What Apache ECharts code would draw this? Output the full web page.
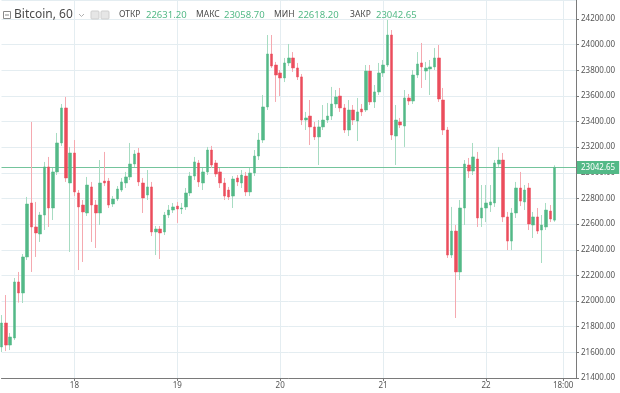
<!DOCTYPE html>
<html><head><meta charset="utf-8">
<script src="https://cdn.jsdelivr.net/npm/echarts@6/dist/echarts.min.js"></script>
<style>html,body{margin:0;padding:0;background:#fff}#c{width:620px;height:393px}</style>
</head><body><div id="c"></div>
<script>
// hourly candles, first = 17th 07:00, last = 22nd 16:00
const openV = [21642,21829,21657,21712,22149,22063,22344,22765,22578,22523,22671,23046,22726,23007,23233,23506,22921,23155,22843,22749,
22687,22890,22749,22687,22936,22936,22757,22796,22866,22921,22968,23069,23155,22921,22827,22890,22539,22562,22539,22671,
22710,22741,22718,22734,22843,22975,23077,22921,23007,23178,23077,23007,22921,22866,22819,22960,22921,22975,22851,22999,
23131,23256,23514,23927,23841,23779,23740,23857,23896,23818,23748,23412,23443,23358,23280,23358,23412,23443,23537,23599,
23506,23334,23490,23404,23498,23490,23794,23553,23631,23779,23841,24075,23287,23397,23365,23584,23560,23763,23857,23794,
23810,23826,23896,23568,23334,22359,22546,22227,22726,23061,23014,23108,22648,22726,22749,22765,23069,23100,22656,22468,
22687,22882,22773,22882,22593,22656,22554,22578,22702,22631.20];
const closeV = [21829,21657,21720,22149,22063,22344,22757,22578,22531,22671,23046,22726,23007,23233,23506,22960,23155,22851,22734,22695,
22905,22749,22687,22921,22921,22749,22796,22874,22929,22968,23069,23147,22929,22804,22890,22539,22562,22531,22671,22710,
22734,22718,22726,22843,22975,23085,22929,23007,23178,23061,22991,22921,22819,22812,22952,22929,22983,22851,22999,23131,
23256,23514,23927,23833,23763,23740,23857,23896,23818,23748,23412,23428,23358,23280,23358,23412,23443,23537,23592,23506,
23334,23490,23412,23475,23475,23794,23553,23631,23779,23841,24075,23295,23412,23373,23584,23560,23763,23849,23826,23818,
23826,23896,23576,23334,22359,22546,22227,22726,23069,23014,23124,22648,22726,22765,22773,23077,23100,22656,22468,22687,
22882,22780,22866,22601,22656,22546,22593,22710,22640,23042.65];
const lowV = [21603,21610,21618,21696,21988,21985,22320,22227,22344,22461,22554,22578,22632,22983,23210,22929,22383,22819,22242,22305,
22663,22461,22414,22593,22897,22726,22734,22780,22851,22882,22944,23046,22897,22687,22788,22507,22359,22328,22515,22648,
22687,22609,22679,22710,22819,22944,22890,22866,22983,23038,22968,22882,22788,22788,22726,22897,22882,22819,22819,22975,
23100,23233,23490,23818,23553,23599,23708,23833,23787,23724,23373,23334,23217,23256,23061,23334,23389,23412,23506,23475,
23311,23287,23373,23248,23443,23475,23529,23506,23607,23748,23826,23256,23061,23350,23202,23529,23537,23740,23662,23724,
23607,23802,23553,23295,22336,22336,21868,22164,22593,22960,22983,22578,22578,22616,22695,22734,23046,22616,22398,22398,
22648,22741,22710,22554,22492,22523,22297,22554,22616,22618.20];
const highV = [21891,22047,21751,22180,22227,22367,22812,23397,22773,22695,23085,23124,23038,23311,23537,23592,23202,23256,22866,22788,
22968,22929,22788,23100,23163,22960,22819,22897,22960,23007,23233,23178,23194,22960,23022,22929,22585,22585,22695,22749,
22765,22773,22765,22882,23007,23124,23100,23038,23202,23210,23100,23038,22960,22890,22975,22983,23022,23007,23038,23178,
23311,23607,24075,24075,23865,23802,23896,24005,23942,23857,23771,23475,23568,23397,23412,23529,23545,23670,23646,23662,
23537,23568,23529,23584,23537,23841,23841,23685,23857,23880,24192,24114,23529,23428,23646,23615,23802,23942,24013,23865,
23880,23974,23997,23662,23358,22734,22593,22788,23100,23116,23233,23163,22905,22905,22905,23100,23202,23155,22695,22726,
22929,23007,22905,22921,22695,22726,22671,22765,22749,23058.70];
const lastPrice = 23042.65;
const yTicks = {min: 21400, step: 200};

// time categories
const cats = [];
(function(){ let d = 17, h = 7; for (let k = 0; k < 135; k++) { cats.push(d + ' ' + String(h).padStart(2,'0') + ':00'); h++; if (h === 24) { h = 0; d++; } } })();

const GREEN = '#53b987', RED = '#eb4d5c';
const wickData = openV.map((o,i)=>[o, closeV[i], lowV[i], highV[i]]);
const bodyData = openV.map((o,i)=>[o, closeV[i], Math.min(o,closeV[i]), Math.max(o,closeV[i])]);

const isMark = (idx, val) => val.endsWith(' 00:00') || val === '22 18:00';
const chart = echarts.init(document.getElementById('c'), null, {renderer:'canvas'});
const txtFont = 'Noto Sans';
const hdr = (x, text, fill, size) => ({type: 'text', x: x, y: 15, z: 100,
  style: {text: text, fontSize: size, fontFamily: txtFont, fill: fill, verticalAlign: 'middle'}});
chart.setOption({
  animation: false,
  backgroundColor: '#fff',
  grid: {left: 1.5, right: 44, top: 0, bottom: 15},
  xAxis: {
    type: 'category', data: cats, boundaryGap: false,
    axisLine: {lineStyle: {color: '#7a7a7a', width: 1}},
    axisTick: {show: true, interval: isMark, length: 3, lineStyle: {color: '#7a7a7a'}},
    axisLabel: {interval: isMark, margin: 4, fontSize: 8, color: '#555', fontFamily: txtFont,
      formatter: v => v === '22 18:00' ? '18:00' : v.split(' ')[0]},
    splitLine: {show: true, interval: isMark, lineStyle: {color: '#e4edf1', width: 1}}
  },
  yAxis: {
    type: 'value', position: 'right', scale: true,
    min: yTicks.min, max: 24348, interval: yTicks.step,
    axisLine: {show: true, lineStyle: {color: '#7a7a7a'}},
    axisTick: {show: true, length: 3, lineStyle: {color: '#7a7a7a'}},
    axisLabel: {showMaxLabel: false, margin: 5, fontSize: 8, color: '#555', fontFamily: txtFont,
      formatter: v => v.toFixed(2)},
    splitLine: {show: true, lineStyle: {color: '#e4edf1', width: 1}}
  },
  series: [
    {type: 'candlestick', data: wickData, barWidth: 1, clip: false, z: 2,
     itemStyle: {color: '#a7dcc2', color0: '#f5a9b0', borderColor: '#a7dcc2', borderColor0: '#f5a9b0', borderWidth: 1}
    },
    {type: 'candlestick', data: bodyData, barWidth: 3, clip: false, z: 3,
     itemStyle: {color: GREEN, color0: RED, borderColor: GREEN, borderColor0: RED, borderWidth: 0.5},
     markLine: {silent: true, symbol: ['none', 'none'], animation: false, z: 1,
       lineStyle: {color: '#74c49c', width: 1, type: 'solid'},
       data: [{yAxis: lastPrice,
         lineStyle: {color: '#74c49c', width: 1, type: 'solid'},
         label: {show: true, position: 'end', distance: 1, formatter: () => lastPrice.toFixed(2),
           backgroundColor: GREEN, color: '#fff', fontSize: 8, fontFamily: txtFont, padding: [3, 4, 2, 4]}}]}
    }
  ],
  graphic: [
    {type: 'rect', shape: {x: 577, y: 380, width: 43, height: 13}, style: {fill: '#fff'}, z: 100},
    // header
    {type: 'rect', shape: {x: 3.5, y: 11.5, width: 7, height: 7}, style: {fill: 'none', stroke: '#8a8a8a', lineWidth: 1}, z: 100},
    {type: 'line', shape: {x1: 5, y1: 15, x2: 9, y2: 15}, style: {stroke: '#8a8a8a', lineWidth: 1}, z: 100},
    hdr(14, 'Bitcoin, 60', '#4a4a4a', 12),
    {type: 'polyline', shape: {points: [[79, 14], [81.5, 16.5], [84, 14]]}, style: {stroke: '#b0b0b0', lineWidth: 1, fill: 'none'}, z: 100},
    {type: 'rect', shape: {x: 91, y: 11, width: 8, height: 8, r: 1}, style: {fill: '#e6e6e6', stroke: '#cfcfcf'}, z: 100},
    {type: 'rect', shape: {x: 101, y: 11, width: 8, height: 8, r: 1}, style: {fill: '#e6e6e6', stroke: '#cfcfcf'}, z: 100},
    hdr(119, 'ОТКР', '#4a4a4a', 8.5),
    hdr(146, '22631.20', GREEN, 9.5),
    hdr(196, 'МАКС', '#4a4a4a', 8.5),
    hdr(224, '23058.70', GREEN, 9.5),
    hdr(274, 'МИН', '#4a4a4a', 8.5),
    hdr(298, '22618.20', GREEN, 9.5),
    hdr(350, 'ЗАКР', '#4a4a4a', 8.5),
    hdr(376, '23042.65', GREEN, 9.5)
  ]
});
</script></body></html>
